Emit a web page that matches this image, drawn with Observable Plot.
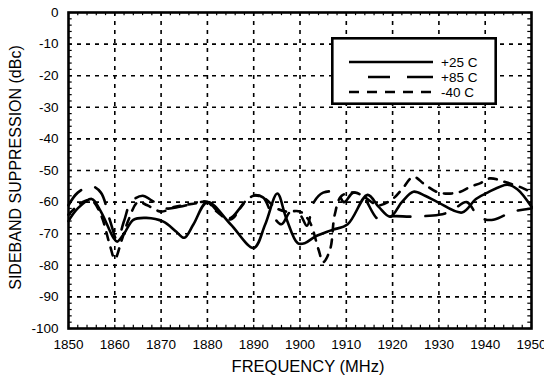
<!DOCTYPE html>
<html><head><meta charset="utf-8">
<script src="https://cdn.jsdelivr.net/npm/d3@7"></script>
<script src="https://cdn.jsdelivr.net/npm/@observablehq/plot@0.6"></script>
<style>
body{margin:0;background:#fff;}
#chart{position:relative;width:544px;height:379px;font-family:"Liberation Sans",Arial,sans-serif;}
#legend{position:absolute;}
</style></head><body><div id="chart"></div>
<script>
// ---- data ----
const xTicks = [1850,1860,1870,1880,1890,1900,1910,1920,1930,1940,1950];
const yTicks = [0,-10,-20,-30,-40,-50,-60,-70,-80,-90,-100];
const seriesNames = ["+25 C","+85 C","-40 C"];

const freqP25 = [1850,1852,1855,1857,1859.7,1860.5,1862,1864,1866.8,1870.5,1873.3,1875,1877,1880,1885,1890,1892.5,1895.1,1897,1899.5,1901,1903.3,1907,1910.3,1914.6,1917,1919.5,1922,1924.5,1927,1929.7,1935,1938,1940.5,1944.8,1947,1950];
const valP25  = [-66,-62,-59,-63,-71.3,-72.5,-70,-65.6,-65,-66.2,-69.4,-71.3,-67,-60,-67,-74.5,-67,-57.3,-65,-73,-73,-70.9,-68.8,-67,-57.7,-61.5,-64.6,-60,-56.7,-58,-60,-63.3,-59,-57,-54.5,-56,-61.5];

const freqP85 = [1850,1852,1855,1857,1859,1860.5,1862,1863.5,1866,1868,1871,1874,1877,1880,1883,1885,1887,1889.5,1892,1894,1896,1898,1900,1901.5,1903,1905,1908,1909.5,1911.5,1913.5,1917,1920,1924,1930,1932.5,1936,1938,1940,1942,1946,1950];
const valP85  = [-61,-57,-55,-57,-66,-72,-66,-60,-58,-59.5,-62,-61.5,-60.5,-60,-64,-65,-62,-58,-58.5,-64,-67,-63,-64,-67.5,-60,-57,-57,-60,-57,-58,-65.5,-64.5,-64.6,-64,-63,-60,-63.5,-65.5,-65.5,-63,-62];

const freqM40 = [1850,1853,1855,1857,1859,1860,1861.5,1863,1865,1867,1870,1873,1877,1880,1882,1885,1888,1890,1892,1895,1897,1900,1902,1904,1905,1906.5,1907.5,1909,1912,1914,1917,1920,1922,1924.5,1927,1930,1934,1937,1939,1941,1944,1948,1950];
const valM40  = [-64,-60,-59.5,-64,-74,-78,-72,-65.5,-60,-61,-63,-61.5,-60.5,-60,-63,-65.5,-60,-58,-58.5,-62,-63,-63,-66,-75,-79,-75,-64,-58,-57,-58.5,-61,-59,-56,-52,-54.5,-57,-57,-55,-54,-52.5,-53.5,-55.5,-57];

const dashes = ["none","20,15","8,8"];

// ---- build table ----
const rows = [];
[[freqP25,valP25],[freqP85,valP85],[freqM40,valM40]].forEach(([f,v],i)=>{
  f.forEach((x,j)=>rows.push({series:seriesNames[i],f:x,v:v[j]}));
});
const minorX = d3.range(1850,1951,2);
const minorY = d3.range(-100,1,2);
const gridX = xTicks.slice(1,-1), gridY = yTicks.slice(1,-1);
const font = "Liberation Sans, Arial, sans-serif";

const chart = Plot.plot({
  width: 544, height: 379,
  marginLeft: 68, marginRight: 13, marginTop: 12, marginBottom: 51,
  style: {fontFamily: font, background: "#fff", color: "#000", overflow: "visible"},
  x: {domain: [1850,1950]},
  y: {domain: [-100,0]},
  marks: [
    Plot.ruleX(gridX, {stroke:"#000", strokeWidth:1.6, strokeDasharray:"4,5"}),
    Plot.ruleY(gridY, {stroke:"#000", strokeWidth:1.6, strokeDasharray:"4,5"}),
    Plot.ruleX(minorX, {x:d=>d, y1:-100, y2:-99, stroke:"#000", strokeWidth:1.2}),
    Plot.ruleX(minorX, {x:d=>d, y1:0, y2:-1, stroke:"#000", strokeWidth:1.2}),
    Plot.ruleY(minorY, {y:d=>d, x1:1850, x2:1850.8, stroke:"#000", strokeWidth:1.2}),
    Plot.ruleY(minorY, {y:d=>d, x1:1950, x2:1949.2, stroke:"#000", strokeWidth:1.2}),
    ...seriesNames.map((s,i)=>Plot.line(rows.filter(d=>d.series===s), {
      x:"f", y:"v", stroke:"#000", strokeWidth:2.6, strokeDasharray:dashes[i], curve:"catmull-rom"
    })),
    Plot.frame({stroke:"#000", strokeWidth:2.6}),
    Plot.axisX(xTicks, {tickSize:0, tickPadding:11, fontSize:13.5, label:null, tickFormat:d=>String(d)}),
    Plot.axisY(yTicks, {tickSize:0, tickPadding:10, fontSize:13.5, label:null, tickFormat:d=>String(d)}),
    Plot.text(["FREQUENCY (MHz)"], {frameAnchor:"bottom", dy:43, dx:8, fontSize:16.5, text:d=>d}),
    Plot.text(["SIDEBAND SUPPRESSION (dBc)"], {frameAnchor:"left", textAnchor:"middle", dx:-53, dy:-3, rotate:-90, fontSize:16, text:d=>d})
  ]
});
const host = document.getElementById("chart");
host.appendChild(chart);

// ---- legend overlay ----
const lg = d3.select(host).append("svg").attr("id","legend")
  .attr("width",166).attr("height",68)
  .style("left","331px").style("top","37px");
lg.append("rect").attr("x",1.3).attr("y",1.3).attr("width",163.4).attr("height",65.4)
  .attr("fill","#fff").attr("stroke","#000").attr("stroke-width",2.6);
seriesNames.forEach((s,i)=>{
  const y = 25 + i*15;
  lg.append("line").attr("x1",18).attr("x2",102).attr("y1",y).attr("y2",y)
    .attr("stroke","#000").attr("stroke-width",2.6)
    .attr("stroke-dasharray", dashes[i]==="none"?null:(i===1?"0,19,22,17,26":"10,8"));
  lg.append("text").attr("x",110).attr("y",y+5).text(s)
    .attr("font-family",font).attr("font-size",13.5);
});
</script>
</body></html>
